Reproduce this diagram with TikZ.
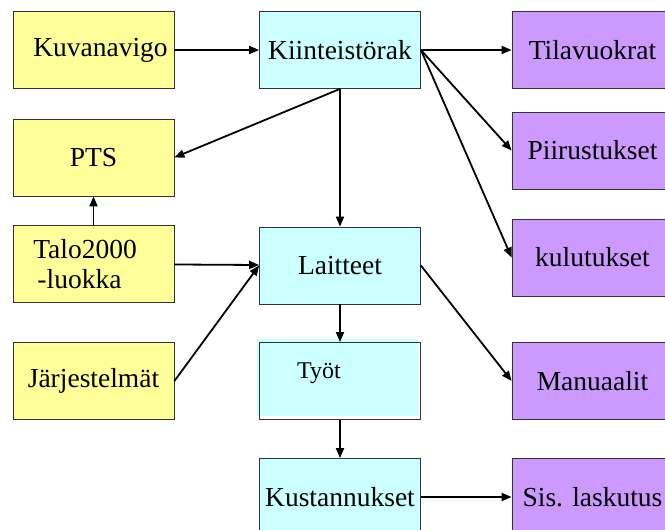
\documentclass[tikz,border=0pt]{standalone}
\usepackage{fontspec}
\setmainfont{Liberation Serif}
\newfontfamily\boxfont{Liberation Serif}
\usepackage{xcolor}
\usepackage{tikz}
\usetikzlibrary{arrows.meta}
\definecolor{boxyellow}{HTML}{FFFF99}
\definecolor{boxcyan}{HTML}{CCFFFF}
\definecolor{boxviolet}{HTML}{CC99FF}
\definecolor{boxline}{HTML}{333333}
\tikzset{
  basebox/.style={
    draw=boxline,
    line width=0.8bp,
    minimum width=161bp,
    minimum height=77bp,
    inner sep=0pt,
    align=center,
    font=\boxfont\fontsize{27.5bp}{30bp}\selectfont
  },
  srcbox/.style={
    basebox,
    fill=boxyellow
  },
  corebox/.style={
    basebox,
    fill=boxcyan
  },
  outbox/.style={
    basebox,
    fill=boxviolet
  },
  workbox/.style={
    basebox,
    preaction={fill=boxcyan, transform canvas={shift={(-3bp,3bp)}}}
  },
  flowarrow/.style={
    -{Triangle[length=10bp,width=8bp]},
    line width=1.8bp,
    draw=black
  }
}

\begin{document}
\begin{tikzpicture}[x=1bp,y=1bp]
    \useasboundingbox (0,0) rectangle (665,530);
    \node[srcbox] (kuva) at (93.5,480) {\kern14bp Kuvanavigo};
    \node[corebox] (kiint) at (340,480) {Kiinteistörak};
    \node[outbox] (tila) at (592.5,480) {Tilavuokrat};
    \node[srcbox] (pts) at (93.5,372.5) {PTS};
    \node[outbox] (piir) at (592.5,379.5) {Piirustukset};
    \node[srcbox] (talo) at (93.5,266) {Talo2000\kern17bp\\-luokka\kern28bp};
    \node[corebox] (lait) at (340,264.5) {Laitteet};
    \node[outbox] (kulu) at (592.5,272.5) {kulutukset};
    \node[srcbox] (jarj) at (93.5,149) {Järjestelmät};
    \node[workbox, label={[font=\boxfont\fontsize{24bp}{26bp}\selectfont, xshift=-21bp, yshift=8bp]center:Työt}] (tyot) at (340,149) {};
    \node[outbox] (manu) at (592.5,149) {Manuaalit};
    \node[corebox] (kust) at (340,33) {Kustannukset};
    \node[outbox] (sis) at (592.5,33) {Sis. laskutus};
    \foreach \a/\b in {kuva/kiint,kiint/lait,talo/pts,talo/lait,lait/tyot,tyot/kust,kust/sis}
      \draw[flowarrow] (\a) -- (\b);
    \foreach \b in {tila,piir,kulu}
      \draw[flowarrow] (kiint.east) -- (\b.west);
    \draw[flowarrow] (kiint.south) -- (pts.east);
    \draw[flowarrow] (jarj.east) -- (lait.west);
    \draw[flowarrow] (lait.east) -- (manu.west);
\end{tikzpicture}
\end{document}
